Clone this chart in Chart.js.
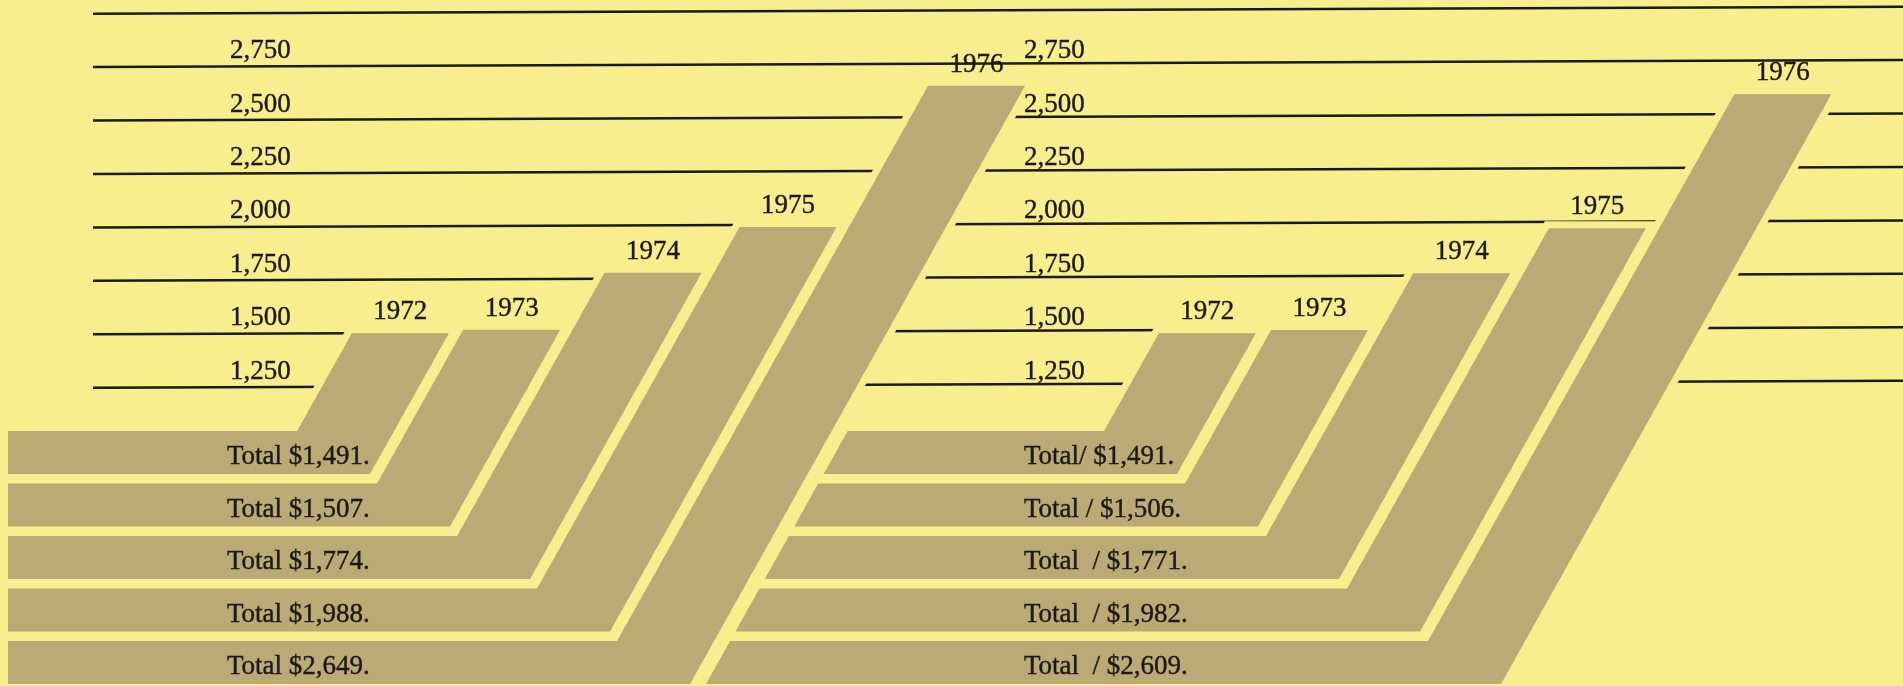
<!DOCTYPE html>
<html>
<head>
<meta charset="utf-8">
<script src="https://cdn.jsdelivr.net/npm/chart.js@4.4.1/dist/chart.umd.min.js"></script>
<style>
  html, body { margin: 0; padding: 0; background: #f8ee8e; overflow: hidden; }
  #wrap { width: 1903px; height: 686px; }
</style>
</head>
<body>
<div id="wrap"><canvas id="chart" width="1903" height="686"></canvas></div>
<script>
// data
const years = ['1972', '1973', '1974', '1975', '1976'];
const leftTotals = [1491, 1507, 1774, 1988, 2649];
const rightTotals = [1491, 1506, 1771, 1982, 2609];
const leftLabels = ['Total $1,491.', 'Total $1,507.', 'Total $1,774.', 'Total $1,988.', 'Total $2,649.'];
const rightLabels = ['Total/ $1,491.', 'Total / $1,506.', 'Total  / $1,771.', 'Total  / $1,982.', 'Total  / $2,609.'];
const tickValues = [1250, 1500, 1750, 2000, 2250, 2500, 2750];
const tickLabels = ['1,250', '1,500', '1,750', '2,000', '2,250', '2,500', '2,750'];
const ruleValues = [1250, 1500, 1750, 2000, 2250, 2500, 2750, 3000];

// look
const YELLOW = '#f8ee8e';
const BAND = '#bba976';
const INK = '#1c1912';
const FONT = '27px "Liberation Serif", "DejaVu Serif", serif';
const SLOPE = 0.56;      // run per pixel of rise on the slanted part
const STRIP = 97;        // width of the slanted part
const GAP = 16;          // space between left 1976 band and the right panel
const ROW_TOP = 1033, ROW_PITCH = 245.7, ROW_THICK = 201;   // rows of the flat parts, y units

const panels = [
    { totals: leftTotals, labels: leftLabels, corner0: 370, cornerStep: 80, tickX: 230, textX: 227 },
    { totals: rightTotals, labels: rightLabels, corner0: 1177, cornerStep: 81, tickX: 1024, textX: 1024 }
];

const bandsPlugin = {
    id: 'bands',
    beforeDatasetsDraw(chart) {
        const ctx = chart.ctx;
        const x = chart.scales.x;
        const y = chart.scales.y;
        ctx.save();
        ctx.fillStyle = YELLOW;
        ctx.fillRect(0, 0, chart.width, chart.height);

        // ruled lines, drawn a little off level like the print
        ctx.strokeStyle = INK;
        ctx.lineWidth = 2.5;
        ruleValues.forEach(v => {
            const py = y.getPixelForValue(v);
            ctx.beginPath();
            ctx.moveTo(x.getPixelForValue(93), py + 3);
            ctx.lineTo(x.getPixelForValue(1903), py - 4);
            ctx.stroke();
        });

        // bent bands
        const shapes = [];
        let edge = null;
        panels.forEach((panel, p) => {
            const meta = chart.getDatasetMeta(p);
            let last = null;
            meta.data.forEach((pt, i) => {
                const top = y.getPixelForValue(ROW_TOP - i * ROW_PITCH);
                const bot = y.getPixelForValue(ROW_TOP - i * ROW_PITCH - ROW_THICK);
                const cx = pt.x;
                const vy = pt.y;
                const tr = cx + (bot - vy) * SLOPE;
                const tl = tr - STRIP;
                const innerX = tl - (top - vy) * SLOPE;
                let sTop, sBot;
                if (edge) {
                    sTop = edge(top) + GAP;
                    sBot = edge(bot) + GAP;
                } else {
                    sTop = sBot = x.getPixelForValue(8);
                }
                shapes.push({
                    pts: [[sTop, top], [innerX, top], [tl, vy], [tr, vy], [cx, bot], [sBot, bot]],
                    year: years[i], yearX: (tl + tr) / 2, yearY: vy - 14,
                    label: panel.labels[i], labelX: x.getPixelForValue(panel.textX), labelY: top + 33
                });
                last = { cx, bot };
            });
            const c = last;
            edge = yy => c.cx + (c.bot - yy) * SLOPE;
        });

        const trace = s => {
            ctx.beginPath();
            s.pts.forEach((q, k) => k ? ctx.lineTo(q[0], q[1]) : ctx.moveTo(q[0], q[1]));
            ctx.closePath();
        };
        ctx.lineJoin = 'miter';
        ctx.strokeStyle = YELLOW;
        ctx.lineWidth = 14;
        shapes.forEach(s => { trace(s); ctx.stroke(); });
        ctx.fillStyle = BAND;
        shapes.forEach(s => { trace(s); ctx.fill(); });

        // text
        ctx.fillStyle = INK;
        ctx.strokeStyle = INK;
        ctx.lineWidth = 0.4;
        ctx.font = FONT;
        ctx.textBaseline = 'alphabetic';
        ctx.textAlign = 'left';
        const write = (t, tx, ty) => { ctx.fillText(t, tx, ty); ctx.strokeText(t, tx, ty); };
        panels.forEach(panel => {
            tickValues.forEach((v, k) => {
                write(tickLabels[k], x.getPixelForValue(panel.tickX), y.getPixelForValue(v) - 6);
            });
        });
        shapes.forEach(s => write(s.label, s.labelX, s.labelY));
        ctx.textAlign = 'center';
        shapes.forEach(s => write(s.year, s.yearX, s.yearY));
        ctx.restore();
    }
};

new Chart(document.getElementById('chart').getContext('2d'), {
    type: 'scatter',
    data: {
        datasets: panels.map((panel, p) => ({
            label: p ? 'right' : 'left',
            data: panel.totals.map((v, i) => ({ x: panel.corner0 + i * panel.cornerStep, y: v })),
            pointRadius: 0,
            showLine: false
        }))
    },
    options: {
        responsive: false,
        devicePixelRatio: 1,
        animation: false,
        layout: { padding: 0 },
        plugins: {
            legend: { display: false },
            tooltip: { enabled: false }
        },
        scales: {
            x: { type: 'linear', min: 0, max: 1903, display: false },
            y: { type: 'linear', min: -160, max: 3050, display: false }
        }
    },
    plugins: [bandsPlugin]
});
</script>
</body>
</html>
